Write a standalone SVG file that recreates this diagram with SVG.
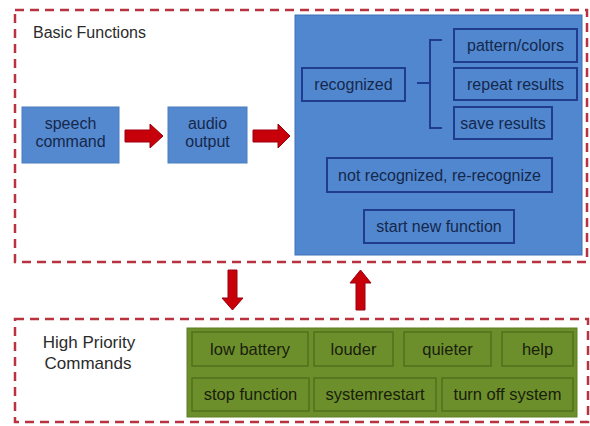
<svg xmlns="http://www.w3.org/2000/svg" width="590" height="426" viewBox="0 0 590 426">
<defs>
<style>
.dash{fill:none;stroke:#b8323f;stroke-width:2.5;stroke-dasharray:9 6}
.blk{fill:#5589cf;stroke:#4a7cc0;stroke-width:1}
.big{fill:#5187cf;stroke:#3f70b8;stroke-width:1}
.inb{fill:#5187cf;stroke:#1f3c8e;stroke-width:2}
.grn{fill:#6d8f2b;stroke:#5f7f22;stroke-width:1}
.cell{fill:#6d8f2b;stroke:#52701d;stroke-width:1.5}
.t{font-family:"Liberation Sans",Arial,sans-serif;font-size:16px;text-anchor:middle}
.tb{fill:#15284c}
.tg{fill:#18200c;font-size:16.5px}
.lab{font-family:"Liberation Sans",Arial,sans-serif;fill:#2b2b2b}
.arr{fill:#c8000a;stroke:#9a0010;stroke-width:1}
.br{fill:none;stroke:#1f3c8e;stroke-width:2}
</style>
</defs>
<g id="basic-functions">
<rect class="dash" x="15" y="10" width="572" height="252"/>
<text class="lab" x="33" y="38" font-size="16">Basic Functions</text>
</g>
<g id="high-priority">
<rect class="dash" x="15" y="319" width="573" height="103"/>
<text class="lab" x="89" y="348" font-size="17" text-anchor="middle">High Priority</text>
<text class="lab" x="88" y="369" font-size="17" text-anchor="middle">Commands</text>
</g>
<g id="speech-command">
<rect class="blk" x="22" y="107" width="97" height="56"/>
<text class="t tb" x="70.5" y="129">speech</text>
<text class="t tb" x="70.5" y="147">command</text>
</g>
<g id="audio-output">
<rect class="blk" x="168" y="107" width="79" height="56"/>
<text class="t tb" x="207.5" y="129">audio</text>
<text class="t tb" x="207.5" y="147">output</text>
</g>
<g id="result-panel">
<rect class="big" x="295" y="15" width="287" height="240"/>
</g>
<g id="recognized">
<rect class="inb" x="302" y="68" width="103" height="33"/>
<text class="t tb" x="353.5" y="90">recognized</text>
</g>
<g id="pattern-colors">
<rect class="inb" x="454" y="29" width="123" height="33"/>
<text class="t tb" x="515.5" y="51">pattern/colors</text>
</g>
<g id="repeat-results">
<rect class="inb" x="454" y="68" width="123" height="32"/>
<text class="t tb" x="515.5" y="90">repeat results</text>
</g>
<g id="save-results">
<rect class="inb" x="454" y="107" width="98" height="32"/>
<text class="t tb" x="503" y="129">save results</text>
</g>
<g id="not-recognized">
<rect class="inb" x="327" y="158" width="225" height="34"/>
<text class="t tb" x="439.5" y="181">not recognized, re-recognize</text>
</g>
<g id="start-new-function">
<rect class="inb" x="364" y="210" width="150" height="33"/>
<text class="t tb" x="439" y="232">start new function</text>
</g>
<g id="commands-panel">
<rect class="grn" x="187" y="328" width="390" height="89"/>
</g>
<g id="low-battery">
<rect class="cell" x="192" y="332" width="116" height="34"/>
<text class="t tg" x="250" y="355">low battery</text>
</g>
<g id="louder">
<rect class="cell" x="314" y="332" width="79" height="34"/>
<text class="t tg" x="353.5" y="355">louder</text>
</g>
<g id="quieter">
<rect class="cell" x="404" y="332" width="87" height="34"/>
<text class="t tg" x="447.5" y="355">quieter</text>
</g>
<g id="help">
<rect class="cell" x="502" y="332" width="71" height="34"/>
<text class="t tg" x="537.5" y="355">help</text>
</g>
<g id="stop-function">
<rect class="cell" x="192" y="378" width="117" height="33"/>
<text class="t tg" x="250.5" y="400">stop function</text>
</g>
<g id="system-restart">
<rect class="cell" x="314" y="378" width="122" height="33"/>
<text class="t tg" x="375" y="400">systemrestart</text>
</g>
<g id="turn-off-system">
<rect class="cell" x="442" y="378" width="131" height="33"/>
<text class="t tg" x="507.5" y="400">turn off system</text>
</g>
<g id="connectors">
<path class="br" d="M442,40 H430 V128 H442 M417,83 H430"/>
<polygon class="arr" points="125,130 150,130 150,124 163,136 150,148 150,142 125,142"/>
<polygon class="arr" points="253,130 278,130 278,124 290,136 278,148 278,142 253,142"/>
<polygon class="arr" points="228,270 237,270 237,298 243,298 232.5,310 222,298 228,298"/>
<polygon class="arr" points="356,310 365,310 365,283 371,283 360.5,270 350,283 356,283"/>
</g>
</svg>
